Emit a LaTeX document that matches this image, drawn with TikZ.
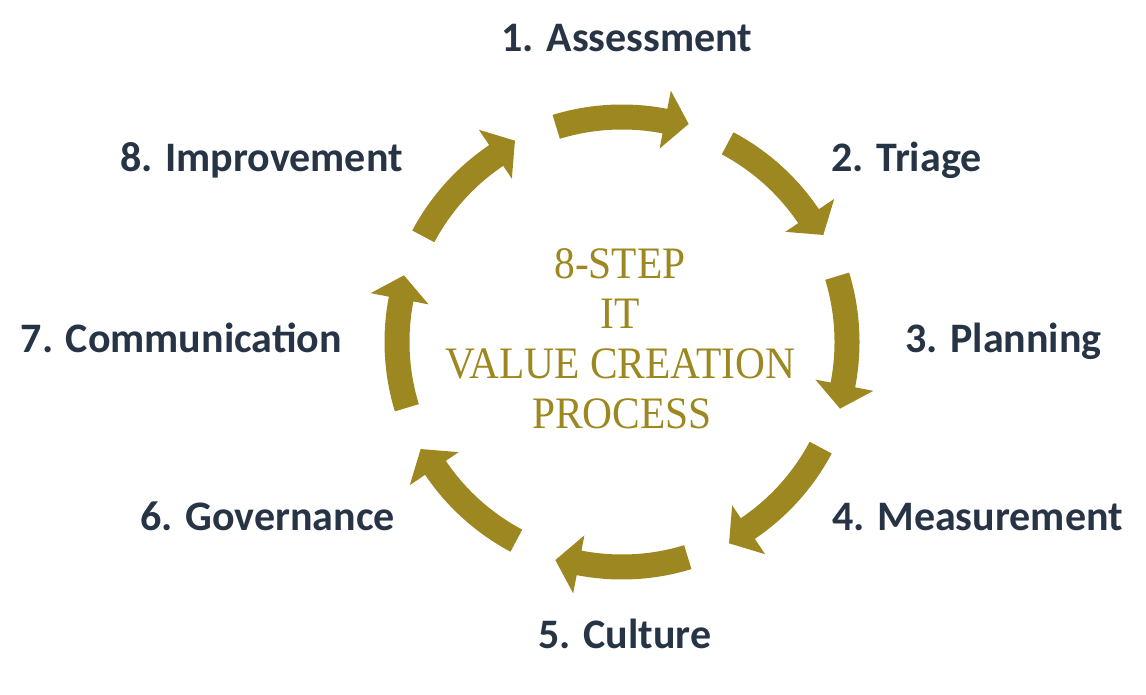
\documentclass[tikz,border=0pt]{standalone}
\usepackage{fontspec}
\newfontfamily\labelfont{Carlito}
\newfontfamily\titlefont{Liberation Serif}
\definecolor{gold}{RGB}{157,135,32}
\definecolor{navy}{RGB}{38,52,69}
\begin{document}
\begin{tikzpicture}[x=1pt,y=1pt,
  steplabel/.style={font=\labelfont\bfseries\fontsize{42}{50}\selectfont, text=navy, inner sep=0pt},
  titleline/.style={font=\titlefont\fontsize{45}{50}\selectfont, text=gold, inner sep=0pt, anchor=base},
  cyclearrow/.style={fill=gold, draw=none}]
\useasboundingbox (0,0) rectangle (1146,694);
\begin{scope}[shift={(622,352)}]
\foreach \c in {90,45,0,-45,-90,-135,-180,-225} {
  \pgfmathsetmacro\a{\c+17}
  \pgfmathsetmacro\t{\c-17}
  \pgfmathsetmacro\b{\c-11}
  \fill[cyclearrow] (\a:237.5pt) arc[start angle=\a, end angle=\b, radius=237.5pt]
    -- (\b:256pt) -- (\t:228pt) -- (\b:197pt) -- (\b:212.5pt)
    arc[start angle=\b, end angle=\a, radius=212.5pt] -- cycle;
}
\end{scope}
% step labels
\node[steplabel, anchor=base] (s1) at (627,642) {1. Assessment};
\node[steplabel, anchor=base west] (s2) at (831,522) {2. Triage};
\node[steplabel, anchor=base west] (s3) at (905,341) {3. Planning};
\node[steplabel, anchor=base west] (s4) at (832,164) {4. Measurement};
\node[steplabel, anchor=base] (s5) at (625,46) {5. Culture};
\node[steplabel, anchor=base east] (s6) at (395,164) {6. Governance};
\node[steplabel, anchor=base east] (s7) at (342,341) {7. Communication};
\node[steplabel, anchor=base east] (s8) at (403,522) {8. Improvement};
% centre title
\node[titleline] (t1) at (620,415) {\scalebox{0.92}[1]{8-STEP}};
\node[titleline] (t2) at (620,365) {\scalebox{0.92}[1]{IT}};
\node[titleline] (t3) at (620,315) {\scalebox{0.92}[1]{VALUE CREATION}};
\node[titleline] (t4) at (622,265) {\scalebox{0.92}[1]{PROCESS}};
\end{tikzpicture}
\end{document}
